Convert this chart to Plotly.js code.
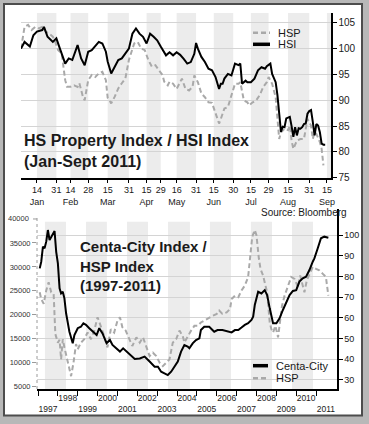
<!DOCTYPE html>
<html>
<head>
<meta charset="utf-8">
<script src="https://cdn.plot.ly/plotly-3.0.1.min.js"></script>
<style>
  html, body { margin: 0; padding: 0; background: #b8b8b8; }
  #chart { width: 369px; height: 424px; }
</style>
</head>
<body>
<div id="chart"></div>
<script>
// ---------- Top panel: HS Property Index / HSI Index (Jan-Sept 2011), rebased ----------
const hsiDates = ['2011-01-03','2011-01-05','2011-01-10','2011-01-12','2011-01-14','2011-01-19','2011-01-20','2011-01-24','2011-01-27','2011-01-31',
  '2011-02-02','2011-02-09','2011-02-11','2011-02-15','2011-02-17','2011-02-18','2011-02-22','2011-02-24','2011-02-28',
  '2011-03-02','2011-03-08','2011-03-10','2011-03-14','2011-03-15','2011-03-17','2011-03-21','2011-03-23','2011-03-25','2011-03-29','2011-03-31',
  '2011-04-04','2011-04-07','2011-04-11','2011-04-13','2011-04-15','2011-04-19','2011-04-21','2011-04-27','2011-04-29',
  '2011-05-04','2011-05-05','2011-05-09','2011-05-12','2011-05-16','2011-05-18','2011-05-20','2011-05-24','2011-05-26','2011-05-30','2011-05-31',
  '2011-06-01','2011-06-03','2011-06-08','2011-06-10','2011-06-14','2011-06-16','2011-06-20','2011-06-21','2011-06-22','2011-06-23','2011-06-27','2011-06-29',
  '2011-07-04','2011-07-06','2011-07-07','2011-07-08','2011-07-12','2011-07-13','2011-07-15','2011-07-19','2011-07-21','2011-07-25','2011-07-27','2011-07-28',
  '2011-08-01','2011-08-02','2011-08-04','2011-08-05','2011-08-08','2011-08-09','2011-08-10','2011-08-11','2011-08-12','2011-08-15','2011-08-16','2011-08-17',
  '2011-08-18','2011-08-19','2011-08-22','2011-08-23','2011-08-24','2011-08-25','2011-08-26','2011-08-29','2011-08-30','2011-08-31',
  '2011-09-01','2011-09-02','2011-09-05','2011-09-06','2011-09-07','2011-09-08','2011-09-09','2011-09-12','2011-09-14'];
const hsiValues = [100.0,101.3,100.4,102.6,103.3,103.6,104.2,102.3,101.3,102.0,
  100.0,97.1,98.1,97.8,99.7,100.7,98.1,96.8,99.4,
  99.7,101.3,101.0,99.4,97.5,95.2,96.5,97.8,98.1,99.1,100.0,
  102.9,103.9,102.9,102.3,101.0,102.9,102.3,101.6,100.4,
  99.4,98.7,99.3,98.7,99.3,98.8,98.0,97.1,97.4,99.0,101.1,
  100.0,98.4,97.4,96.1,95.8,94.5,92.2,93.2,93.2,94.2,95.1,94.8,
  97.1,96.8,97.1,93.2,93.8,93.5,93.5,94.2,95.8,96.4,96.1,96.6,
  97.1,95.1,93.5,91.0,87.7,83.9,84.9,84.8,86.5,86.6,86.8,85.0,
  82.9,84.8,83.2,84.6,84.5,84.8,85.4,85.5,87.4,87.9,
  88.1,85.8,83.2,85.4,85.1,83.8,81.6,81.4,81.4];

const hspDates = ['2011-01-03','2011-01-05','2011-01-07','2011-01-11','2011-01-13','2011-01-17','2011-01-19','2011-01-21','2011-01-25','2011-01-27','2011-01-28',
  '2011-02-01','2011-02-07','2011-02-09','2011-02-10','2011-02-14','2011-02-16','2011-02-18','2011-02-21','2011-02-23','2011-02-24','2011-02-28',
  '2011-03-02','2011-03-04','2011-03-08','2011-03-10','2011-03-14','2011-03-15','2011-03-16','2011-03-17','2011-03-21','2011-03-23','2011-03-25','2011-03-29','2011-03-31',
  '2011-04-04','2011-04-06','2011-04-08','2011-04-12','2011-04-14','2011-04-18','2011-04-20','2011-04-26','2011-04-28',
  '2011-05-03','2011-05-04','2011-05-06','2011-05-09','2011-05-12','2011-05-16','2011-05-19','2011-05-23','2011-05-25','2011-05-27','2011-05-30',
  '2011-06-01','2011-06-03','2011-06-08','2011-06-10','2011-06-14','2011-06-16','2011-06-20','2011-06-21','2011-06-23','2011-06-27','2011-06-29',
  '2011-07-04','2011-07-06','2011-07-07','2011-07-11','2011-07-13','2011-07-14','2011-07-18','2011-07-20','2011-07-22','2011-07-26','2011-07-28','2011-07-29',
  '2011-08-02','2011-08-04','2011-08-05','2011-08-08','2011-08-09','2011-08-11','2011-08-15','2011-08-16','2011-08-17','2011-08-18','2011-08-22','2011-08-24',
  '2011-08-26','2011-08-29','2011-08-30','2011-09-01','2011-09-02','2011-09-05','2011-09-06','2011-09-08','2011-09-09','2011-09-12'];
const hspValues = [100.0,104.2,104.6,103.6,104.2,103.9,104.2,103.3,102.9,102.3,101.7,
  99.7,99.1,93.9,92.6,92.6,92.9,92.6,93.3,90.7,90.0,93.9,
  94.9,94.5,95.2,95.5,93.9,90.5,90.0,89.4,90.7,92.3,93.3,94.2,97.8,
  99.7,101.0,101.3,100.0,99.7,97.8,96.5,96.8,95.8,
  94.9,93.6,92.9,93.6,93.2,92.2,94.2,92.2,91.9,92.6,94.8,
  93.5,91.3,90.6,89.6,89.5,87.7,85.5,86.4,88.4,88.7,91.0,
  93.2,93.2,93.5,90.0,89.6,89.0,89.6,90.0,91.0,92.6,93.5,94.5,
  93.2,90.6,86.4,82.5,83.8,84.5,84.2,85.1,82.2,80.6,82.2,82.5,
  82.5,84.8,86.4,85.1,82.5,83.8,83.5,81.9,80.6,77.4];

const topTickDates = ['2011-01-14','2011-01-31','2011-02-14','2011-02-28','2011-03-15','2011-03-31','2011-04-15','2011-04-29',
  '2011-05-16','2011-05-31','2011-06-15','2011-06-30','2011-07-15','2011-07-29','2011-08-15','2011-08-31','2011-09-15'];
const topTickText = ['14<br>Jan','31','14<br>Feb','28','15<br>Mar','31','15<br>Apr','29','16<br>May','31',
  '15<br>Jun','30','15<br>Jul','29','15<br>Aug','31','15<br>Sep'];
const topYTicks = [75, 80, 85, 90, 95, 100, 105];
const hkHolidays2011 = ['2011-02-03','2011-02-04','2011-04-05','2011-04-22','2011-04-25','2011-05-02','2011-05-10','2011-06-06','2011-07-01','2011-09-13'];

// ---------- Bottom panel: Centa-City Index / HSP Index (1997-2011) ----------
const ccDates = ['1997-02-01','1997-03-01','1997-04-01','1997-05-01','1997-06-01','1997-07-01','1997-08-01','1997-09-01','1997-10-01','1997-11-01','1997-12-01',
  '1998-01-01','1998-02-01','1998-03-01','1998-04-01','1998-05-01','1998-06-01','1998-07-01','1998-08-01','1998-10-01','1998-11-01',
  '1999-01-01','1999-03-01','1999-04-15','1999-06-01','1999-08-01','1999-10-01','1999-12-15',
  '2000-02-01','2000-04-01','2000-06-15','2000-08-15','2000-10-01','2000-12-15',
  '2001-02-15','2001-04-15','2001-06-15','2001-08-15','2001-11-15',
  '2002-02-15','2002-05-15','2002-08-15','2002-11-15',
  '2003-01-15','2003-03-15','2003-05-15','2003-07-15','2003-09-15','2003-11-15',
  '2004-01-15','2004-03-15','2004-05-15','2004-07-15','2004-08-15','2004-10-15','2004-12-15',
  '2005-02-15','2005-03-15','2005-05-15','2005-08-15','2005-11-15',
  '2006-01-15','2006-04-15','2006-07-15','2006-10-01','2006-12-01',
  '2007-02-01','2007-04-01','2007-06-01','2007-08-01','2007-10-01','2007-11-01','2007-12-01',
  '2008-02-01','2008-04-01','2008-06-01','2008-07-15','2008-09-01','2008-11-01',
  '2009-01-01','2009-03-01','2009-05-01','2009-07-01','2009-09-01','2009-11-01',
  '2010-01-01','2010-03-01','2010-05-01','2010-07-01','2010-09-01','2010-11-01','2010-12-01',
  '2011-02-01','2011-04-01','2011-06-01','2011-08-15'];
const ccValues = [83.9,87.1,94.4,93.6,96.8,102.4,97.6,99.2,100.8,101.9,91.9,
  86.3,74.3,71.8,72.6,69.4,62.2,56.6,53.3,47.7,51.7,
  55.0,55.7,57.4,56.6,55.0,53.3,51.7,
  55.0,52.5,47.7,49.3,46.9,45.3,
  43.7,45.3,43.7,42.1,40.1,
  40.4,41.3,38.9,36.4,
  36.4,34.0,33.2,32.4,34.0,36.4,
  38.9,43.7,46.9,46.1,45.3,47.7,49.3,
  50.1,54.1,55.7,55.7,53.3,
  54.1,54.1,53.6,53.0,54.1,
  54.1,55.3,56.6,57.4,59.0,60.6,66.2,
  72.6,71.8,73.4,71.0,64.6,57.4,
  57.4,59.8,63.8,67.8,71.0,73.0,
  73.4,77.5,79.1,79.9,83.1,87.1,88.7,
  93.6,98.4,99.2,98.7];

const hspHistDates = ['1997-02-01','1997-03-01','1997-04-15','1997-06-01','1997-07-15','1997-09-01','1997-10-15','1997-11-15',
  '1998-01-01','1998-02-01','1998-03-01','1998-04-01','1998-05-01','1998-07-01','1998-09-01','1998-10-15','1998-12-01',
  '1999-01-01','1999-03-01','1999-05-01','1999-07-01','1999-09-01','1999-11-01',
  '2000-01-01','2000-03-01','2000-05-01','2000-07-01','2000-09-01','2000-11-01',
  '2001-01-01','2001-02-15','2001-04-01','2001-06-01','2001-08-01','2001-10-01','2001-12-15',
  '2002-02-15','2002-04-15','2002-06-15','2002-08-15','2002-10-15','2002-12-15',
  '2003-02-15','2003-04-15','2003-06-15','2003-08-15','2003-10-15','2003-12-15',
  '2004-02-15','2004-04-15','2004-05-15','2004-07-15','2004-09-15','2004-11-15',
  '2005-01-15','2005-03-15','2005-05-15','2005-08-15','2005-10-15',
  '2006-01-01','2006-02-15','2006-04-15','2006-07-01','2006-09-01','2006-10-01','2006-12-01',
  '2007-02-01','2007-04-01','2007-06-01','2007-08-01','2007-09-15','2007-10-15','2007-12-01',
  '2008-01-01','2008-02-15','2008-03-15','2008-05-01','2008-06-15','2008-07-15','2008-09-01','2008-10-01','2008-11-01','2008-12-15',
  '2009-02-01','2009-03-01','2009-04-15','2009-06-01','2009-08-01','2009-10-01','2009-12-01',
  '2010-02-01','2010-03-15','2010-05-01','2010-06-01','2010-07-15','2010-09-01','2010-11-01',
  '2011-01-01','2011-03-01','2011-05-01','2011-07-01','2011-08-15'];
const hspHistValues = [24700,23300,22300,25100,26800,24700,24400,16000,
  14200,14800,10700,14900,13200,10000,7200,10000,13900,
  12800,14200,14900,16300,14900,16700,
  19500,17700,15600,13200,17000,16300,
  18800,19500,17400,16700,14900,13500,15300,
  14200,15300,13500,11400,12100,11400,
  10000,9300,10000,10700,14200,14900,
  16700,15600,14200,15600,16700,17700,
  17700,18400,18800,19500,19800,
  20200,20900,20200,20500,21200,23300,24000,
  23700,25100,26100,27900,32400,36300,37700,
  36600,31700,29600,28200,26100,24700,18400,17000,16300,17700,
  15300,18400,21900,24000,25800,27900,27500,
  25800,28200,26100,24700,27200,28600,30000,
  29600,29300,28600,27900,24000];

const years = [1997,1998,1999,2000,2001,2002,2003,2004,2005,2006,2007,2008,2009,2010,2011];
const leftTicks = [5000,10000,15000,20000,25000,30000,35000,40000];
const leftTickText = ['5000','10000','15000','20000','25000','30000','35000','40000'];
const rightTicks = [30,40,50,60,70,80,90,100];

// ---------- helpers / styling ----------
const W = 369, H = 424;
const px = v => v / W;
const py = v => 1 - v / H;
const FONT = 'Liberation Sans, Arial, Helvetica, sans-serif';
const GRAY = '#a9a9a9';
const BAND = '#ececec';

const yearTickVals = years.map(y => y + '-07-02');
const yearTickText = years.map(y => (y % 2 === 0 ? String(y) : '<br>' + y));
const yearStarts = years.map(y => y + '-01-01');

const topBands = [['2011-01-14','2011-01-31'],['2011-02-14','2011-02-28'],['2011-03-15','2011-03-31'],['2011-04-15','2011-04-29'],
  ['2011-05-16','2011-05-31'],['2011-06-15','2011-06-30'],['2011-07-15','2011-07-29'],['2011-08-15','2011-08-31'],['2011-09-15','2011-09-19 07:00']];
const bottomBands = [['1997-05-08','1998-05-30'],['1999-06-03','2000-06-20'],['2001-06-25','2002-07-16'],['2003-07-20','2004-08-25'],
  ['2005-08-28','2006-09-20'],['2007-09-20','2008-10-12'],['2009-10-15','2010-11-06']];

const TOP_Y = [74.95, 106.9];
const LEFT_Y = [4521, 42000];
const RIGHT_Y = [25.65, 112.36];
const BOTTOM_TOP_PX = 209.4;
// pixel row of the top left-axis value (40000) on the bottom panel's left scale
const LEFT_TOP_LABEL_PX = 389 - (leftTicks[leftTicks.length - 1] - LEFT_Y[0]) / (LEFT_Y[1] - LEFT_Y[0]) * (389 - BOTTOM_TOP_PX);

const shapes = [];
// frame
shapes.push({type:'rect', xref:'paper', yref:'paper', x0:px(4), x1:px(362), y0:py(415.5), y1:py(4),
  fillcolor:'#ffffff', line:{color:'#4d4d4d', width:2}, layer:'below'});
topBands.forEach(b => shapes.push({type:'rect', xref:'x', yref:'y', x0:b[0], x1:b[1], y0:TOP_Y[0], y1:TOP_Y[1],
  fillcolor:BAND, line:{width:0}, layer:'below'}));
bottomBands.forEach(b => shapes.push({type:'rect', xref:'x2', yref:'y3', x0:b[0], x1:b[1], y0:LEFT_Y[0], y1:39433,
  fillcolor:BAND, line:{width:0}, layer:'below'}));
// dotted left axis line (bottom panel)
shapes.push({type:'line', xref:'paper', yref:'paper', x0:px(37), x1:px(37), y0:py(389), y1:py(215),
  line:{color:'#9a9a9a', width:1, dash:'dot'}});
// top tick mark of the left axis (40000)
shapes.push({type:'line', xref:'paper', yref:'paper', x0:px(33), x1:px(37), y0:py(LEFT_TOP_LABEL_PX), y1:py(LEFT_TOP_LABEL_PX), line:{color:'#999', width:1}});
// legend samples
shapes.push({type:'line', xref:'paper', yref:'paper', x0:px(253), x1:px(270), y0:py(32.7), y1:py(32.7), line:{color:GRAY, width:2.5, dash:'5px,3px'}});
shapes.push({type:'line', xref:'paper', yref:'paper', x0:px(253), x1:px(270), y0:py(44.3), y1:py(44.3), line:{color:'#000', width:3.5}});
shapes.push({type:'line', xref:'paper', yref:'paper', x0:px(253), x1:px(268), y0:py(365.7), y1:py(365.7), line:{color:'#000', width:3.5}});
shapes.push({type:'line', xref:'paper', yref:'paper', x0:px(253), x1:px(268), y0:py(378.3), y1:py(378.3), line:{color:GRAY, width:2.5, dash:'5px,3px'}});

const ann = (text, x, y, opts) => Object.assign({text, xref:'paper', yref:'paper', x:px(x), y:py(y), showarrow:false,
  xanchor:'left', yanchor:'middle', align:'left', font:{family:FONT, size:11, color:'#1a1a1a'}}, opts || {});

const annotations = [
  ann('<b>HS Property Index / HSI Index</b><br><b>(Jan-Sept 2011)</b>', 22, 130, {yanchor:'top', font:{family:FONT, size:16, color:'#1a1a1a'}}),
  ann('<b>Centa-City Index /</b><br><b>HSP Index</b><br><b>(1997-2011)</b>', 78, 236, {yanchor:'top', font:{family:FONT, size:15, color:'#1a1a1a'}}),
  ann('HSP', 276, 32.7),
  ann('HSI', 276, 44.3),
  ann('Centa-City', 274, 365.7),
  ann('HSP', 274, 378.3),
  ann('Source: Bloomberg', 349, 212.5, {xanchor:'right', font:{family:FONT, size:10, color:'#1a1a1a'}}),
  ann(leftTickText[leftTickText.length - 1], 31, LEFT_TOP_LABEL_PX, {xanchor:'right', font:{family:FONT, size:7.5, color:'#333'}})
];

const traces = [
  {x:hspDates, y:hspValues, xaxis:'x', yaxis:'y', type:'scatter', mode:'lines', name:'HSP',
   line:{color:GRAY, width:2, dash:'5px,3px'}, showlegend:false, hoverinfo:'skip'},
  {x:hsiDates, y:hsiValues, xaxis:'x', yaxis:'y', type:'scatter', mode:'lines', name:'HSI',
   line:{color:'#000', width:2}, showlegend:false, hoverinfo:'skip'},
  {x:hspHistDates, y:hspHistValues, xaxis:'x2', yaxis:'y3', type:'scatter', mode:'lines', name:'HSP',
   line:{color:GRAY, width:2, dash:'5px,3px'}, showlegend:false, hoverinfo:'skip'},
  {x:ccDates, y:ccValues, xaxis:'x2', yaxis:'y4', type:'scatter', mode:'lines', name:'Centa-City',
   line:{color:'#000', width:2}, showlegend:false, hoverinfo:'skip'}
];

const layout = {
  width: W, height: H,
  margin: {l:0, r:0, t:0, b:0, pad:0},
  paper_bgcolor: '#b8b8b8',
  plot_bgcolor: 'rgba(0,0,0,0)',
  font: {family: FONT, color: '#1a1a1a'},
  showlegend: false,
  xaxis: {
    domain: [px(21), px(331)], anchor: 'y', type: 'date',
    range: ['2011-01-03', '2011-09-19 07:00'],
    rangebreaks: [{bounds: ['sat', 'mon']}, {values: hkHolidays2011}],
    tickmode: 'array', tickvals: topTickDates, ticktext: topTickText, tickangle: 0,
    ticks: 'outside', ticklen: 3, tickcolor: '#000', tickwidth: 1,
    showline: true, linecolor: '#000', linewidth: 1.5,
    showgrid: false, zeroline: false,
    tickfont: {family: FONT, size: 9, color: '#1a1a1a'}, fixedrange: true
  },
  yaxis: {
    domain: [py(178), py(13)], anchor: 'x', side: 'right',
    range: TOP_Y, tickmode: 'array', tickvals: topYTicks,
    ticks: 'outside', ticklen: 4, tickcolor: '#000',
    showline: true, linecolor: '#000', linewidth: 1.5,
    showgrid: true, gridcolor: '#d4d4d4', gridwidth: 1, zeroline: false,
    tickfont: {family: FONT, size: 10, color: '#1a1a1a'}, fixedrange: true
  },
  xaxis2: {
    domain: [px(37), px(337)], anchor: 'y3', type: 'date',
    range: ['1996-12-13', '2012-01-21'],
    tickmode: 'array', tickvals: yearTickVals, ticktext: yearTickText, tickangle: 0,
    ticks: '',
    minor: {tickmode: 'array', tickvals: yearStarts, ticks: 'outside', ticklen: 5, tickcolor: '#000', tickwidth: 1, showgrid: false},
    showline: true, linecolor: '#000', linewidth: 1.5,
    showgrid: false, zeroline: false,
    tickfont: {family: FONT, size: 8.5, color: '#1a1a1a'}, fixedrange: true
  },
  yaxis3: {
    domain: [py(389), py(BOTTOM_TOP_PX)], anchor: 'x2', side: 'left',
    range: LEFT_Y, tickmode: 'array', tickvals: leftTicks.slice(0, -1), ticktext: leftTickText.slice(0, -1),
    ticks: 'outside', ticklen: 4, tickcolor: '#999', ticklabeloverflow: 'allow',
    showline: false, showgrid: false, zeroline: false,
    tickfont: {family: FONT, size: 7.5, color: '#333'}, fixedrange: true
  },
  yaxis4: {
    overlaying: 'y3', anchor: 'x2', side: 'right',
    range: RIGHT_Y, tickmode: 'array', tickvals: rightTicks,
    ticks: 'outside', ticklen: 4, tickcolor: '#000',
    showline: true, linecolor: '#000', linewidth: 1.5,
    showgrid: true, gridcolor: '#d4d4d4', gridwidth: 1, zeroline: false,
    tickfont: {family: FONT, size: 9, color: '#1a1a1a'}, fixedrange: true
  },
  shapes: shapes,
  annotations: annotations
};

Plotly.newPlot('chart', traces, layout, {staticPlot: true, displayModeBar: false});
</script>
</body>
</html>
